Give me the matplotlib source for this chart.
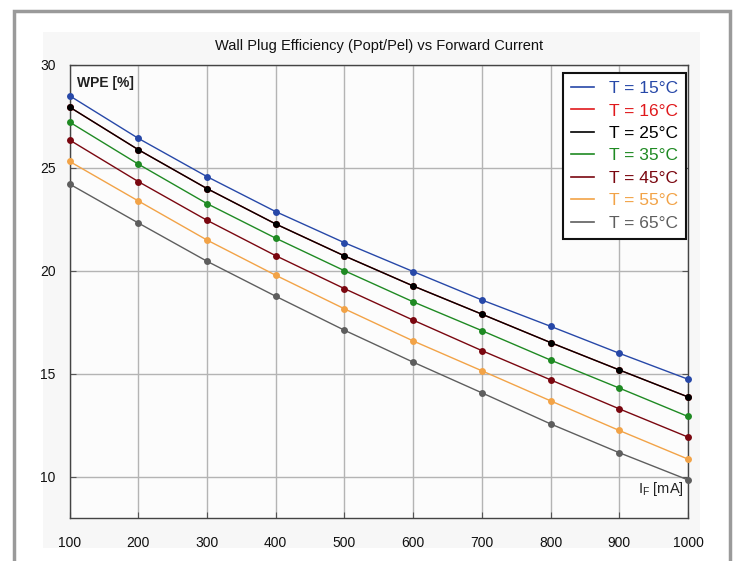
import matplotlib.pyplot as plt
from matplotlib.lines import Line2D
from matplotlib.patches import Rectangle

plt.rcParams['font.family'] = ['Liberation Sans', 'DejaVu Sans']

current = [100, 200, 300, 400, 500, 600, 700, 800, 900, 1000]

wpe_15 = [28.51, 26.44, 24.58, 22.88, 21.37, 19.97, 18.59, 17.31, 16.00, 14.74]
wpe_16 = [27.96, 25.89, 24.00, 22.28, 20.73, 19.27, 17.90, 16.52, 15.19, 13.88]
wpe_25 = [27.96, 25.89, 24.00, 22.28, 20.73, 19.27, 17.90, 16.52, 15.19, 13.88]
wpe_35 = [27.23, 25.19, 23.27, 21.59, 20.01, 18.50, 17.10, 15.67, 14.31, 12.93]
wpe_45 = [26.36, 24.34, 22.46, 20.74, 19.14, 17.61, 16.13, 14.71, 13.30, 11.93]
wpe_55 = [25.32, 23.40, 21.50, 19.79, 18.16, 16.60, 15.15, 13.69, 12.25, 10.86]
wpe_65 = [24.22, 22.33, 20.47, 18.77, 17.12, 15.57, 14.08, 12.57, 11.17, 9.85]

labels = ['T = 15°C', 'T = 16°C', 'T = 25°C', 'T = 35°C', 'T = 45°C', 'T = 55°C', 'T = 65°C']
colors = ['#2748a8', '#e0191c', '#000000', '#1f8a23', '#7a0710', '#f2a347', '#5e5e5e']
series = [wpe_15, wpe_16, wpe_25, wpe_35, wpe_45, wpe_55, wpe_65]

xticks = [100, 200, 300, 400, 500, 600, 700, 800, 900, 1000]
yticks = [10, 15, 20, 25, 30]

W, H = 739, 561
fig = plt.figure(figsize=(W / 100, H / 100), dpi=100)
fig.patch.set_facecolor('white')

# grey outer frame and light panel behind the plot
fig.patches.append(Rectangle((14 / W, -0.05), (730 - 14) / W, 1 - 11 / H + 0.05,
                             transform=fig.transFigure, facecolor='white',
                             edgecolor='#9a9a9a', linewidth=2.5, zorder=-10))
fig.patches.append(Rectangle((43 / W, 1 - 548 / H), (700 - 43) / W, (548 - 32) / H,
                             transform=fig.transFigure, facecolor='#f7f7f7',
                             edgecolor='none', zorder=-9))

ax = fig.add_axes([69.5 / W, 1 - 518 / H, (688 - 69.5) / W, (518 - 65) / H])
ax.set_zorder(1)
ax.set_facecolor('#fcfcfc')

# red curve goes first so the 25 °C curve sits on top of it
for vals, col in zip(series, colors):
    ax.plot(current, vals, color=col, linewidth=1.0, marker='o', markersize=5,
            markeredgewidth=0, clip_on=False, zorder=3)

ax.set_xlim(100, 1000)
ax.set_ylim(8, 30)
ax.set_xticks(xticks)
ax.set_yticks(yticks)
ax.tick_params(direction='in', length=4, width=0.8, color='#555555',
               labelsize=10, top=False, right=True, labelcolor='#111111')
ax.tick_params(axis='x', pad=13)
ax.tick_params(axis='y', pad=10)
ax.grid(True, color='#b4b4b4', linewidth=1.0)
ax.set_axisbelow(True)
for sp in ax.spines.values():
    sp.set_color('#444444')
    sp.set_linewidth(1.0)

ax.set_title('Wall Plug Efficiency (Popt/Pel) vs Forward Current', fontsize=10.5,
             color='#111111', pad=11)
ax.text(0.012, 0.975, 'WPE [%]', transform=ax.transAxes, fontsize=10,
        fontweight='bold', color='#222222', va='top', ha='left')
ax.text(0.993, 0.045, r'$\mathregular{I_F}$ [mA]', transform=ax.transAxes,
        fontsize=10.5, color='#222222', va='bottom', ha='right')

handles = [Line2D([], [], color=c, linewidth=1.2) for c in colors]
leg = ax.legend(handles, labels, loc='upper right', bbox_to_anchor=(0.997, 0.982),
                borderaxespad=0, fontsize=12.5, frameon=True, fancybox=False,
                handlelength=1.3, handletextpad=0.9, labelspacing=0.42,
                borderpad=0.45)
leg.get_frame().set_edgecolor('#111111')
leg.get_frame().set_linewidth(1.5)
leg.get_frame().set_facecolor('white')
leg.get_frame().set_alpha(1)
for txt, c in zip(leg.get_texts(), colors):
    txt.set_color(c)

fig.savefig('out.png', dpi=100)
